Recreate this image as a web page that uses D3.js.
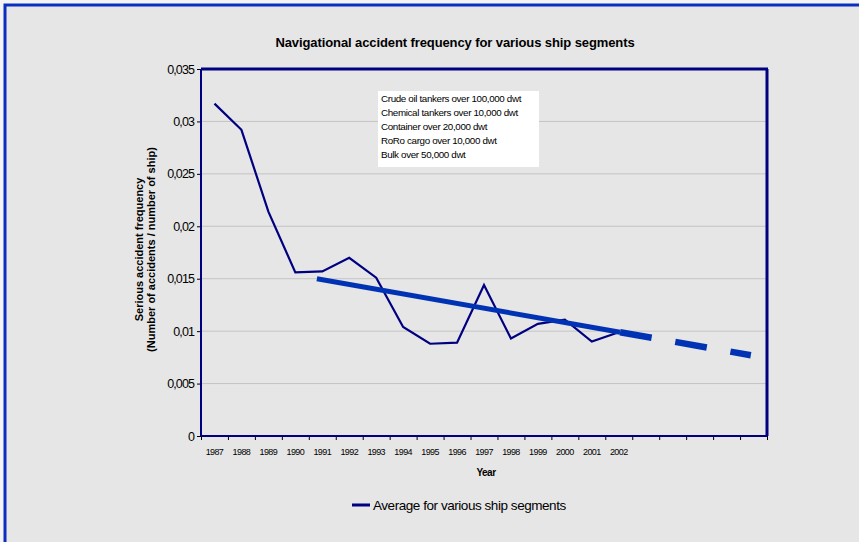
<!DOCTYPE html>
<html>
<head>
<meta charset="utf-8">
<script src="https://cdn.jsdelivr.net/npm/d3@7"></script>
<style>
  body { margin: 0; background: #f4f4f4; }
  svg text { font-family: "Liberation Sans", Arial, sans-serif; }
</style>
</head>
<body>
<div id="chart"></div>
<script>
// data
const years = [1987, 1988, 1989, 1990, 1991, 1992, 1993, 1994, 1995, 1996, 1997, 1998, 1999, 2000, 2001, 2002];
const frequency = [0.0317, 0.0292, 0.0214, 0.0156, 0.0157, 0.0170, 0.0151, 0.0104, 0.0088, 0.0089, 0.0144, 0.0093, 0.0107, 0.0111, 0.0090, 0.0099];
// trend line: solid part then dashed forecast
const trendYears = [1990.8, 2002.05, 2006.9];
const trendValues = [0.0150, 0.0099, 0.0077];
const yTicks = [0, 0.005, 0.01, 0.015, 0.02, 0.025, 0.03, 0.035];
const segments = [
    "Crude oil tankers over 100,000 dwt",
    "Chemical tankers over 10,000 dwt",
    "Container over 20,000 dwt",
    "RoRo cargo over 10,000 dwt",
    "Bulk over 50,000 dwt"
];
const nSlots = 21; // category slots on the x axis (16 years + 5 empty)

const W = 859, H = 542;
const margin = { top: 69, right: 92, bottom: 106, left: 201 };
const width = W - margin.left - margin.right;
const height = H - margin.top - margin.bottom;

const svg = d3.select("#chart").append("svg")
    .attr("width", W)
    .attr("height", H);

// chart area + outer border
svg.append("rect")
    .attr("x", 5).attr("y", 5)
    .attr("width", W + 10).attr("height", H + 10)
    .attr("fill", "#e6e6e6")
    .attr("stroke", "#0a2fc0")
    .attr("stroke-width", 3);

svg.append("text")
    .attr("x", 455).attr("y", 47)
    .attr("text-anchor", "middle")
    .style("font-size", "13px")
    .style("font-weight", "bold")
    .style("letter-spacing", "-0.1px")
    .text("Navigational accident frequency for various ship segments");

const g = svg.append("g")
    .attr("transform", `translate(${margin.left},${margin.top})`);

const first = years[0];
const x = d3.scaleLinear()
    .domain([first - 0.5, first - 0.5 + nSlots])
    .range([0, width]);

const y = d3.scaleLinear()
    .domain([0, 0.035])
    .range([height, 0]);

// grid
g.append("g")
    .selectAll("line")
    .data(yTicks.slice(1, -1))
    .enter().append("line")
    .attr("x1", 0).attr("x2", width)
    .attr("y1", d => y(d)).attr("y2", d => y(d))
    .attr("stroke", "#c4c4c4")
    .attr("stroke-width", 1);

// y axis
const fmt = d => d === 0 ? "0" : String(d).replace(".", ",");
const yAxis = g.append("g")
    .call(d3.axisLeft(y).tickValues(yTicks).tickFormat(fmt).tickSize(4).tickPadding(3));
yAxis.select(".domain").remove();
yAxis.selectAll(".tick line").attr("stroke", "#000");
yAxis.selectAll("text")
    .style("font-size", "12.5px")
    .style("letter-spacing", "-0.9px")
    .attr("fill", "#000");

// x axis: ticks between categories, labels at the centres
const slotEdges = d3.range(nSlots + 1).map(i => first - 0.5 + i);
const xAxis = g.append("g")
    .attr("transform", `translate(0,${height})`)
    .call(d3.axisBottom(x).tickValues(slotEdges).tickFormat("").tickSize(4));
xAxis.select(".domain").remove();
xAxis.selectAll(".tick line").attr("stroke", "#000");

g.append("g")
    .selectAll("text")
    .data(years)
    .enter().append("text")
    .attr("x", d => x(d))
    .attr("y", height + 19)
    .attr("text-anchor", "middle")
    .style("font-size", "9px")
    .style("letter-spacing", "-0.6px")
    .text(d => d);

// plot frame
g.append("line")
    .attr("x1", 0).attr("x2", width + 1)
    .attr("y1", 0).attr("y2", 0)
    .attr("stroke", "#000080").attr("stroke-width", 3);
g.append("line")
    .attr("x1", width).attr("x2", width)
    .attr("y1", 0).attr("y2", height)
    .attr("stroke", "#000080").attr("stroke-width", 3);
g.append("line")
    .attr("x1", 0).attr("x2", 0)
    .attr("y1", 0).attr("y2", height)
    .attr("stroke", "#000080").attr("stroke-width", 2);
g.append("line")
    .attr("x1", 0).attr("x2", width)
    .attr("y1", height).attr("y2", height)
    .attr("stroke", "#000080").attr("stroke-width", 2);

// data line
const line = d3.line()
    .x(d => x(d[0]))
    .y(d => y(d[1]));

g.append("path")
    .datum(years.map((yr, i) => [yr, frequency[i]]))
    .attr("fill", "none")
    .attr("stroke", "#000080")
    .attr("stroke-width", 2.2)
    .attr("stroke-linejoin", "miter")
    .attr("d", line);

// trend (solid) and forecast (dashed)
g.append("path")
    .datum([[trendYears[0], trendValues[0]], [trendYears[1], trendValues[1]]])
    .attr("fill", "none")
    .attr("stroke", "#0033b4")
    .attr("stroke-width", 5)
    .attr("d", line);

g.append("path")
    .datum([[trendYears[1], trendValues[1]], [trendYears[2], trendValues[2]]])
    .attr("fill", "none")
    .attr("stroke", "#0033b4")
    .attr("stroke-width", 6.5)
    .attr("stroke-dasharray", "32,24")
    .attr("d", line);

// white box listing segments
const boxX = 378 - margin.left, boxY = 91 - margin.top;
g.append("rect")
    .attr("x", boxX).attr("y", boxY)
    .attr("width", 161).attr("height", 76)
    .attr("fill", "#fff");
g.append("g")
    .selectAll("text")
    .data(segments)
    .enter().append("text")
    .attr("x", boxX + 3)
    .attr("y", (d, i) => boxY + 11 + i * 14)
    .style("font-size", "9.8px")
    .style("letter-spacing", "-0.35px")
    .text(d => d);

// axis titles
g.append("text")
    .attr("x", x(1997) + 2)
    .attr("y", height + 40)
    .attr("text-anchor", "middle")
    .style("font-size", "10px")
    .style("font-weight", "bold")
    .style("letter-spacing", "-0.5px")
    .text("Year");

const yTitle = g.append("text")
    .attr("transform", `translate(${-58},${height / 2 - 3}) rotate(-90)`)
    .attr("text-anchor", "middle")
    .style("font-size", "11px")
    .style("font-weight", "bold");
yTitle.append("tspan").attr("x", 0).attr("dy", 0)
    .text("Serious accident frequency");
yTitle.append("tspan").attr("x", 0).attr("dy", 12)
    .text("(Number of accidents / number of ship)");

// legend
const leg = svg.append("g").attr("transform", "translate(352,505)");
leg.append("line")
    .attr("x1", 0).attr("x2", 18)
    .attr("y1", 0).attr("y2", 0)
    .attr("stroke", "#000080").attr("stroke-width", 3);
leg.append("text")
    .attr("x", 21).attr("y", 5)
    .style("font-size", "13.5px")
    .style("letter-spacing", "-0.45px")
    .text("Average for various ship segments");
</script>
</body>
</html>
